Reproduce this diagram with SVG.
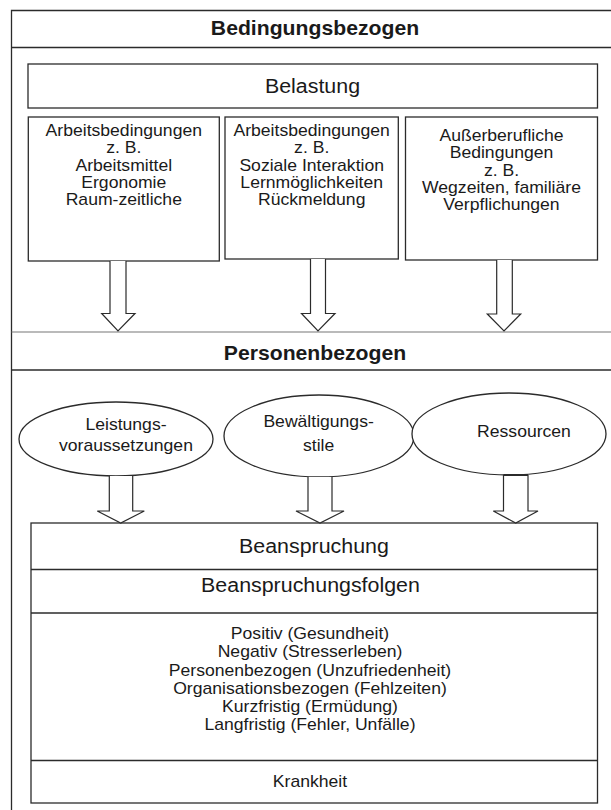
<svg xmlns="http://www.w3.org/2000/svg" width="611" height="810" viewBox="0 0 611 810">
<style>
.ln{stroke:#2b2b2b;stroke-width:1.3;fill:none}
.bx{stroke:#2b2b2b;stroke-width:1.3;fill:#fff}
.ar{stroke:#2b2b2b;stroke-width:1.2;fill:#fff;stroke-linejoin:miter}
text{font-family:"Liberation Sans",Arial,Helvetica,sans-serif;fill:#1a1a1a;text-anchor:middle;transform-box:fill-box;transform-origin:center}
.t{font-size:16px;transform:scaleX(1.1)}
.h{font-size:20px;transform:scaleX(1.07)}
.b{font-size:20px;font-weight:bold;transform:scaleX(1.06)}
</style>
<rect width="611" height="810" fill="#fff"/>
<g id="frame">
<path class="ln" d="M11.5,812 V10.5 H613"/>
<line class="ln" x1="11.5" y1="47.5" x2="613" y2="47.5"/>
<line x1="11.5" y1="332" x2="613" y2="332" stroke="#777" stroke-width="1.1"/>
<line class="ln" x1="11.5" y1="370" x2="613" y2="370"/>
<text class="b" x="315" y="35">Bedingungsbezogen</text>
<text class="b" x="315" y="360">Personenbezogen</text>
</g>
<g id="belastung">
<rect class="bx" x="28" y="64" width="569.5" height="44"/>
<text class="h" x="312.5" y="93.3">Belastung</text>
</g>
<g id="box1">
<rect class="bx" x="28.3" y="117" width="191" height="144" stroke-width="1.7"/>
<text class="t" x="123.8" y="136.5">Arbeitsbedingungen</text>
<text class="t" x="123.8" y="153.5">z. B.</text>
<text class="t" x="123.8" y="171">Arbeitsmittel</text>
<text class="t" x="123.8" y="188">Ergonomie</text>
<text class="t" x="123.8" y="205">Raum-zeitliche</text>
</g>
<g id="box2">
<rect class="bx" x="225" y="117" width="173.3" height="142"/>
<text class="t" x="311.7" y="136.5">Arbeitsbedingungen</text>
<text class="t" x="311.7" y="153.5">z. B.</text>
<text class="t" x="311.7" y="171">Soziale Interaktion</text>
<text class="t" x="311.7" y="188">Lernmöglichkeiten</text>
<text class="t" x="311.7" y="205">Rückmeldung</text>
</g>
<g id="box3">
<rect class="bx" x="405.5" y="117" width="192" height="143"/>
<text class="t" x="501.5" y="141">Außerberufliche</text>
<text class="t" x="501.5" y="158.5">Bedingungen</text>
<text class="t" x="501.5" y="176">z. B.</text>
<text class="t" x="501.5" y="193">Wegzeiten, familiäre</text>
<text class="t" x="501.5" y="210.5">Verpflichungen</text>
</g>
<g id="ell1">
<ellipse class="bx" cx="116" cy="439" rx="97" ry="37"/>
<text class="t" x="126" y="430">Leistungs-</text>
<text class="t" x="126" y="451">voraussetzungen</text>
</g>
<g id="ell2">
<ellipse class="bx" cx="319" cy="436" rx="95" ry="41"/>
<text class="t" x="318.6" y="427">Bewältigungs-</text>
<text class="t" x="318.6" y="451">stile</text>
</g>
<g id="ell3">
<ellipse class="bx" cx="509" cy="434" rx="97" ry="41"/>
<text class="t" x="524" y="437">Ressourcen</text>
</g>
<g id="result">
<rect class="bx" x="31" y="523" width="566.5" height="280"/>
<line class="ln" x1="31" y1="569.5" x2="597.5" y2="569.5"/>
<line class="ln" x1="31" y1="613" x2="597.5" y2="613"/>
<line class="ln" x1="31" y1="760.5" x2="597.5" y2="760.5" stroke-width="1.6"/>
<text class="h" x="314" y="553">Beanspruchung</text>
<text class="h" x="310.5" y="592">Beanspruchungsfolgen</text>
<text class="t" x="310" y="639">Positiv (Gesundheit)</text>
<text class="t" x="310" y="657.3">Negativ (Stresserleben)</text>
<text class="t" x="310" y="675.6">Personenbezogen (Unzufriedenheit)</text>
<text class="t" x="310" y="693.9">Organisationsbezogen (Fehlzeiten)</text>
<text class="t" x="310" y="712.2">Kurzfristig (Ermüdung)</text>
<text class="t" x="310" y="730.5">Langfristig (Fehler, Unfälle)</text>
<text class="t" x="310" y="787">Krankheit</text>
</g>
<g id="connectors">
<path class="ar" d="M110,261 V313.5 H101.7 L118,331 L135,313.5 H126 V261"/>
<path class="ar" d="M310.5,259 V313.5 H301.5 L318,331 L335,313.5 H325.5 V259"/>
<path class="ar" d="M496.7,260 V314 H487.3 L504,331 L520.7,314 H512.3 V260"/>
<path class="ar" d="M109.3,476 V511 H97.3 L120.7,523 L144.3,511 H132.7 V476"/>
<path class="ar" d="M308,477 V511 H296 L320,523 L344,511 H332 V477"/>
<path class="ar" d="M503.5,475 V511 H493.3 L515.7,523 L538,511 H528 V475"/>
<line x1="503.5" y1="475" x2="528" y2="475" stroke="#2b2b2b" stroke-width="2"/>
</g>
</svg>
